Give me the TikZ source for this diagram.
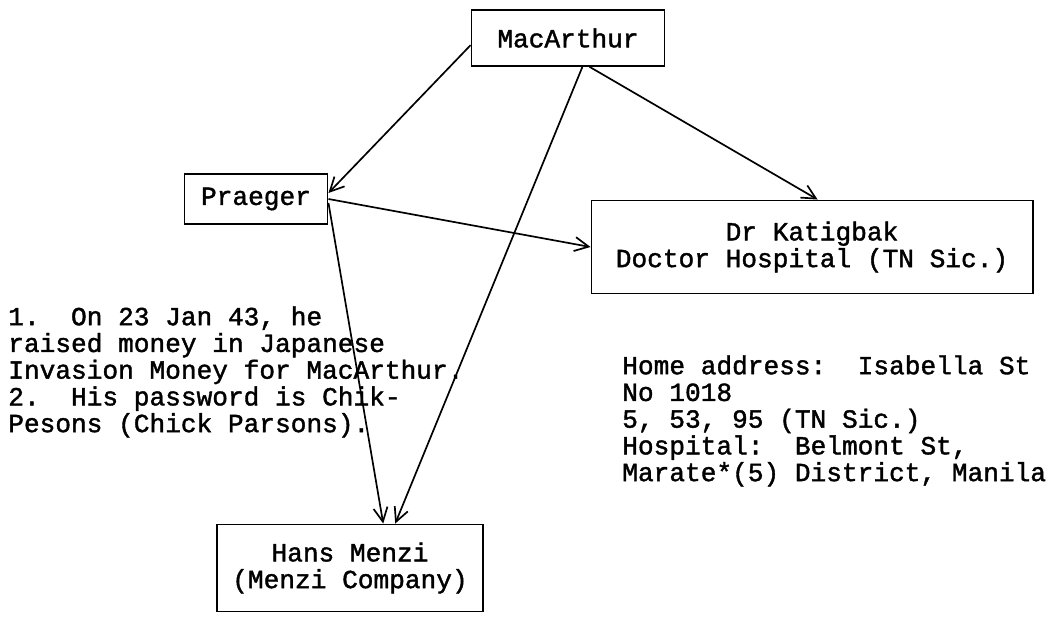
\documentclass[tikz,border=0pt]{standalone}
\usepackage{fontspec}
\setmainfont{Liberation Mono}[FakeBold=1.5]
\usetikzlibrary{arrows.meta}
\begin{document}
\begin{tikzpicture}[
        x=0.025cm, y=-0.025cm,
        every node/.style={font=\fontsize{18.6}{19}\selectfont},
        card/.style={draw, line width=1.2pt, align=center, inner sep=0pt},
        link/.style={-{Straight Barb[length=10pt,width=10pt]}, line width=1.2pt},
        memo/.style={align=left, inner sep=0pt, anchor=north west}
    ]
        \useasboundingbox (0,0) rectangle (1050,617);

        % people
        \node[card, minimum width=4.83cm, minimum height=1.4cm] (mac) at (568,38) {MacArthur};
        \node[card, minimum width=3.58cm, minimum height=1.25cm] (praeger) at (256,199) {Praeger};
        \node[card, minimum width=11.03cm, minimum height=2.33cm] (katig) at (812,247) {Dr Katigbak\\Doctor Hospital (TN Sic.)};
        \node[card, minimum width=6.65cm, minimum height=2.18cm] (menzi) at (350,568) {Hans Menzi\\(Menzi Company)};

        % links
        \draw[link] ([yshift=-0.18cm]mac.west) -- ([yshift=0.15cm]praeger.east);
        \draw[link] ([xshift=0.36cm]mac.south) -- ([xshift=1.13cm]menzi.north);
        \draw[link] ([xshift=0.54cm]mac.south) -- ([xshift=0.14cm]katig.north);
        \draw[link] (praeger.east) -- (katig.west);
        \draw[link] ([yshift=-0.1cm]praeger.east) -- ([xshift=0.83cm]menzi.north);

        % notes
        \node[memo] (story) at (8,306) {1.\ \ On 23 Jan 43, he\\raised money in Japanese\\Invasion Money for MacArthur.\\2.\ \ His password is Chik-\\Pesons (Chick Parsons).};
        \node[memo] (address) at (622,355) {Home address:\ \ Isabella St\\No 1018\\5, 53, 95 (TN Sic.)\\Hospital:\ \ Belmont St,\\Marate*(5) District, Manila};

    \end{tikzpicture}
\end{document}
